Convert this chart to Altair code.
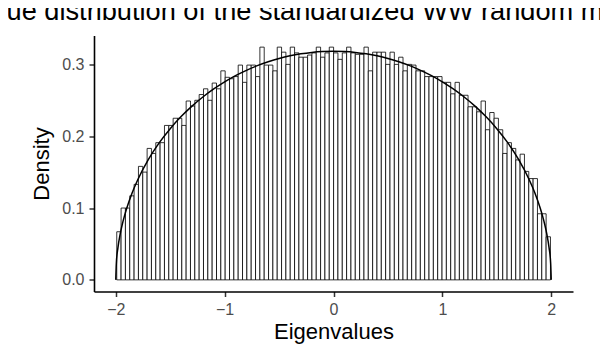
import altair as alt
import pandas as pd

title_text = "Eigenvalue distribution of the standardized WW random matrix"
x_title = "Eigenvalues"
y_title = "Density"

# histogram: 100 bins, first left edge and width (data units)
bin_first_left = -1.991
bin_width = 0.03984
densities = [
    0.067, 0.100, 0.100, 0.117, 0.133, 0.158, 0.150, 0.183, 0.176, 0.191,
    0.191, 0.215, 0.215, 0.225, 0.225, 0.215, 0.249, 0.242, 0.250, 0.258,
    0.266, 0.250, 0.274, 0.266, 0.291, 0.282, 0.280, 0.283, 0.299, 0.275,
    0.299, 0.299, 0.283, 0.324, 0.299, 0.299, 0.291, 0.324, 0.317, 0.300,
    0.324, 0.316, 0.310, 0.310, 0.313, 0.316, 0.324, 0.310, 0.316, 0.324,
    0.316, 0.307, 0.316, 0.324, 0.316, 0.314, 0.314, 0.324, 0.291, 0.317,
    0.317, 0.317, 0.300, 0.317, 0.300, 0.310, 0.291, 0.300, 0.299, 0.291,
    0.291, 0.283, 0.283, 0.283, 0.283, 0.275, 0.275, 0.259, 0.275, 0.257,
    0.257, 0.241, 0.241, 0.234, 0.249, 0.209, 0.233, 0.225, 0.209, 0.176,
    0.191, 0.183, 0.167, 0.175, 0.151, 0.141, 0.141, 0.092, 0.092, 0.060,
]

# density curve points
curve_x = [-2.0, -1.995, -1.98, -1.96, -1.94, -1.92, -1.9, -1.85, -1.8, -1.7,
           -1.6, -1.5, -1.4, -1.3, -1.2, -1.1, -1.0, -0.9, -0.8, -0.7,
           -0.6, -0.5, -0.4, -0.3, -0.2, -0.1, 0.0,
           0.1, 0.2, 0.3, 0.4, 0.5, 0.6, 0.7, 0.8, 0.9, 1.0,
           1.1, 1.2, 1.3, 1.4, 1.5, 1.6, 1.7, 1.8, 1.85, 1.9,
           1.92, 1.94, 1.96, 1.98, 1.995, 2.0]
curve_y = [0.0, 0.0225, 0.0449, 0.0633, 0.0774, 0.0891, 0.0994, 0.121, 0.1387, 0.1677,
           0.191, 0.2105, 0.2273, 0.2419, 0.2546, 0.2658, 0.2757, 0.2843, 0.2917, 0.2982,
           0.3036, 0.3082, 0.3119, 0.3147, 0.3167, 0.3179, 0.3183,
           0.3179, 0.3167, 0.3147, 0.3119, 0.3082, 0.3036, 0.2982, 0.2917, 0.2843, 0.2757,
           0.2658, 0.2546, 0.2419, 0.2273, 0.2105, 0.191, 0.1677, 0.1387, 0.121, 0.0994,
           0.0891, 0.0774, 0.0633, 0.0449, 0.0225, 0.0]

x_ticks = [-2, -1, 0, 1, 2]
y_ticks = [0.0, 0.1, 0.2, 0.3]

bars_df = pd.DataFrame({"density": densities})
bars_df["left"] = bin_first_left + bin_width * bars_df.index
bars_df["right"] = bars_df["left"] + bin_width
bars_df["zero"] = 0.0

curve_df = pd.DataFrame({"x": curve_x, "y": curve_y})
title_df = pd.DataFrame({"label": [title_text]})

FONT = "Liberation Sans"
xscale = alt.Scale(domain=[-2.2, 2.2], nice=False, zero=False)
yscale = alt.Scale(domain=[-0.0162, 0.3402], nice=False, zero=False)

x_axis = alt.Axis(values=x_ticks, format="d", title=x_title, labelPadding=5,
                  titlePadding=4)
y_axis = alt.Axis(values=y_ticks, format=".1f", title=y_title, labelPadding=5,
                  titlePadding=8)

bars = alt.Chart(bars_df).mark_rect(
    fill="white", stroke="black", strokeWidth=0.8
).encode(
    x=alt.X("left:Q", scale=xscale, axis=x_axis),
    x2="right:Q",
    y=alt.Y("density:Q", scale=yscale, axis=y_axis),
    y2="zero:Q",
)

curve = alt.Chart(curve_df).mark_line(
    color="black", strokeWidth=1.5, interpolate="monotone"
).encode(
    x=alt.X("x:Q", scale=xscale, axis=x_axis),
    y=alt.Y("y:Q", scale=yscale, axis=y_axis),
)

# plot title, placed above the panel (offset to the left as in the reference)
title_mark = alt.Chart(title_df).mark_text(
    font=FONT, fontSize=27.2, color="black", align="center", baseline="alphabetic"
).encode(
    text="label:N",
    x=alt.value(184.5),
    y=alt.value(-16),
)

chart = alt.layer(bars, curve, title_mark).properties(
    width=479,
    height=256,
    autosize=alt.AutoSizeParams(type="none"),
    padding={"left": 86, "top": 27.5, "right": 27, "bottom": 56},
).configure_view(stroke=None).configure_axis(
    grid=False,
    domainColor="black", domainWidth=1.6,
    tickColor="#333333", tickWidth=1.5, tickSize=5,
    labelFont=FONT, labelFontSize=16, labelColor="#4D4D4D",
    titleFont=FONT, titleFontSize=22, titleFontWeight="normal", titleColor="black",
)

chart.save("out.html", embed_options={"renderer": "svg", "actions": False})
